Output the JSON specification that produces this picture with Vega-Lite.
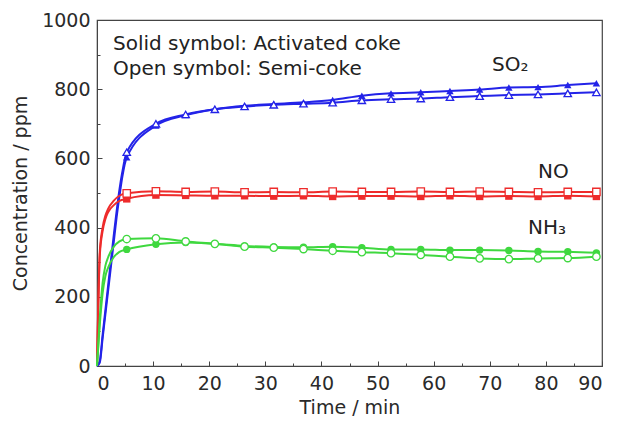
{
  "$schema": "https://vega.github.io/schema/vega-lite/v6.json",
  "width": 505,
  "height": 346,
  "autosize": {"type": "none"},
  "padding": {"left": 97, "top": 20, "right": 15, "bottom": 56},
  "background": "white",
  "config": {
    "font": "DejaVu Sans",
    "view": {"stroke": "#444", "strokeWidth": 1.2},
    "axis": {"grid": false, "domainColor": "#444", "tickColor": "#444", "labelColor": "#2a2a2a", "titleColor": "#2a2a2a", "labelFontSize": 19, "titleFontSize": 19, "titleFontWeight": "normal", "labelFont": "DejaVu Sans", "titleFont": "DejaVu Sans", "format": "d"}
  },
  "datasets": {
    "curve": [
      {"gas": "SO2", "sorbent": "Activated coke", "time": 0, "ppm": 0},
      {"gas": "SO2", "sorbent": "Activated coke", "time": 0.5, "ppm": 10},
      {"gas": "SO2", "sorbent": "Activated coke", "time": 1, "ppm": 80},
      {"gas": "SO2", "sorbent": "Activated coke", "time": 1.5, "ppm": 150},
      {"gas": "SO2", "sorbent": "Activated coke", "time": 2, "ppm": 220},
      {"gas": "SO2", "sorbent": "Activated coke", "time": 2.5, "ppm": 290},
      {"gas": "SO2", "sorbent": "Activated coke", "time": 3, "ppm": 360},
      {"gas": "SO2", "sorbent": "Activated coke", "time": 3.5, "ppm": 430},
      {"gas": "SO2", "sorbent": "Activated coke", "time": 4, "ppm": 490},
      {"gas": "SO2", "sorbent": "Activated coke", "time": 4.5, "ppm": 545},
      {"gas": "SO2", "sorbent": "Activated coke", "time": 5.3, "ppm": 603},
      {"gas": "SO2", "sorbent": "Activated coke", "time": 10.5, "ppm": 695},
      {"gas": "SO2", "sorbent": "Activated coke", "time": 15.8, "ppm": 725},
      {"gas": "SO2", "sorbent": "Activated coke", "time": 21, "ppm": 742},
      {"gas": "SO2", "sorbent": "Activated coke", "time": 26.3, "ppm": 752},
      {"gas": "SO2", "sorbent": "Activated coke", "time": 31.5, "ppm": 757},
      {"gas": "SO2", "sorbent": "Activated coke", "time": 36.8, "ppm": 762},
      {"gas": "SO2", "sorbent": "Activated coke", "time": 42, "ppm": 769},
      {"gas": "SO2", "sorbent": "Activated coke", "time": 47.2, "ppm": 781},
      {"gas": "SO2", "sorbent": "Activated coke", "time": 52.4, "ppm": 788},
      {"gas": "SO2", "sorbent": "Activated coke", "time": 57.7, "ppm": 791},
      {"gas": "SO2", "sorbent": "Activated coke", "time": 62.9, "ppm": 795},
      {"gas": "SO2", "sorbent": "Activated coke", "time": 68.2, "ppm": 799},
      {"gas": "SO2", "sorbent": "Activated coke", "time": 73.4, "ppm": 805},
      {"gas": "SO2", "sorbent": "Activated coke", "time": 78.6, "ppm": 806},
      {"gas": "SO2", "sorbent": "Activated coke", "time": 83.9, "ppm": 812},
      {"gas": "SO2", "sorbent": "Activated coke", "time": 89, "ppm": 817},
      {"gas": "SO2", "sorbent": "Semi-coke", "time": 0, "ppm": 0},
      {"gas": "SO2", "sorbent": "Semi-coke", "time": 0.5, "ppm": 15},
      {"gas": "SO2", "sorbent": "Semi-coke", "time": 1, "ppm": 90},
      {"gas": "SO2", "sorbent": "Semi-coke", "time": 2, "ppm": 235},
      {"gas": "SO2", "sorbent": "Semi-coke", "time": 3, "ppm": 380},
      {"gas": "SO2", "sorbent": "Semi-coke", "time": 4, "ppm": 510},
      {"gas": "SO2", "sorbent": "Semi-coke", "time": 4.5, "ppm": 560},
      {"gas": "SO2", "sorbent": "Semi-coke", "time": 5.3, "ppm": 618},
      {"gas": "SO2", "sorbent": "Semi-coke", "time": 10.5, "ppm": 700},
      {"gas": "SO2", "sorbent": "Semi-coke", "time": 15.8, "ppm": 727},
      {"gas": "SO2", "sorbent": "Semi-coke", "time": 21, "ppm": 742},
      {"gas": "SO2", "sorbent": "Semi-coke", "time": 26.3, "ppm": 750},
      {"gas": "SO2", "sorbent": "Semi-coke", "time": 31.5, "ppm": 755},
      {"gas": "SO2", "sorbent": "Semi-coke", "time": 36.8, "ppm": 758},
      {"gas": "SO2", "sorbent": "Semi-coke", "time": 42, "ppm": 761},
      {"gas": "SO2", "sorbent": "Semi-coke", "time": 47.2, "ppm": 768},
      {"gas": "SO2", "sorbent": "Semi-coke", "time": 52.4, "ppm": 771},
      {"gas": "SO2", "sorbent": "Semi-coke", "time": 57.7, "ppm": 773},
      {"gas": "SO2", "sorbent": "Semi-coke", "time": 62.9, "ppm": 777},
      {"gas": "SO2", "sorbent": "Semi-coke", "time": 68.2, "ppm": 780},
      {"gas": "SO2", "sorbent": "Semi-coke", "time": 73.4, "ppm": 783},
      {"gas": "SO2", "sorbent": "Semi-coke", "time": 78.6, "ppm": 785},
      {"gas": "SO2", "sorbent": "Semi-coke", "time": 83.9, "ppm": 788},
      {"gas": "SO2", "sorbent": "Semi-coke", "time": 89, "ppm": 791},
      {"gas": "NO", "sorbent": "Activated coke", "time": 0, "ppm": 0},
      {"gas": "NO", "sorbent": "Activated coke", "time": 0.2, "ppm": 150},
      {"gas": "NO", "sorbent": "Activated coke", "time": 0.5, "ppm": 320},
      {"gas": "NO", "sorbent": "Activated coke", "time": 1, "ppm": 390},
      {"gas": "NO", "sorbent": "Activated coke", "time": 1.5, "ppm": 425},
      {"gas": "NO", "sorbent": "Activated coke", "time": 2, "ppm": 445},
      {"gas": "NO", "sorbent": "Activated coke", "time": 3, "ppm": 465},
      {"gas": "NO", "sorbent": "Activated coke", "time": 4, "ppm": 477},
      {"gas": "NO", "sorbent": "Activated coke", "time": 5.3, "ppm": 483},
      {"gas": "NO", "sorbent": "Activated coke", "time": 10.5, "ppm": 494},
      {"gas": "NO", "sorbent": "Activated coke", "time": 15.8, "ppm": 493},
      {"gas": "NO", "sorbent": "Activated coke", "time": 21, "ppm": 492},
      {"gas": "NO", "sorbent": "Activated coke", "time": 26.3, "ppm": 492},
      {"gas": "NO", "sorbent": "Activated coke", "time": 31.5, "ppm": 491},
      {"gas": "NO", "sorbent": "Activated coke", "time": 36.8, "ppm": 492},
      {"gas": "NO", "sorbent": "Activated coke", "time": 42, "ppm": 490},
      {"gas": "NO", "sorbent": "Activated coke", "time": 47.2, "ppm": 491},
      {"gas": "NO", "sorbent": "Activated coke", "time": 52.4, "ppm": 491},
      {"gas": "NO", "sorbent": "Activated coke", "time": 57.7, "ppm": 490},
      {"gas": "NO", "sorbent": "Activated coke", "time": 62.9, "ppm": 492},
      {"gas": "NO", "sorbent": "Activated coke", "time": 68.2, "ppm": 490},
      {"gas": "NO", "sorbent": "Activated coke", "time": 73.4, "ppm": 491},
      {"gas": "NO", "sorbent": "Activated coke", "time": 78.6, "ppm": 490},
      {"gas": "NO", "sorbent": "Activated coke", "time": 83.9, "ppm": 492},
      {"gas": "NO", "sorbent": "Activated coke", "time": 89, "ppm": 490},
      {"gas": "NO", "sorbent": "Semi-coke", "time": 0, "ppm": 0},
      {"gas": "NO", "sorbent": "Semi-coke", "time": 0.2, "ppm": 160},
      {"gas": "NO", "sorbent": "Semi-coke", "time": 0.5, "ppm": 330},
      {"gas": "NO", "sorbent": "Semi-coke", "time": 1, "ppm": 400},
      {"gas": "NO", "sorbent": "Semi-coke", "time": 1.5, "ppm": 435},
      {"gas": "NO", "sorbent": "Semi-coke", "time": 2, "ppm": 455},
      {"gas": "NO", "sorbent": "Semi-coke", "time": 3, "ppm": 478},
      {"gas": "NO", "sorbent": "Semi-coke", "time": 4, "ppm": 492},
      {"gas": "NO", "sorbent": "Semi-coke", "time": 5.3, "ppm": 499},
      {"gas": "NO", "sorbent": "Semi-coke", "time": 10.5, "ppm": 505},
      {"gas": "NO", "sorbent": "Semi-coke", "time": 15.8, "ppm": 503},
      {"gas": "NO", "sorbent": "Semi-coke", "time": 21, "ppm": 504},
      {"gas": "NO", "sorbent": "Semi-coke", "time": 26.3, "ppm": 502},
      {"gas": "NO", "sorbent": "Semi-coke", "time": 31.5, "ppm": 503},
      {"gas": "NO", "sorbent": "Semi-coke", "time": 36.8, "ppm": 502},
      {"gas": "NO", "sorbent": "Semi-coke", "time": 42, "ppm": 504},
      {"gas": "NO", "sorbent": "Semi-coke", "time": 47.2, "ppm": 503},
      {"gas": "NO", "sorbent": "Semi-coke", "time": 52.4, "ppm": 503},
      {"gas": "NO", "sorbent": "Semi-coke", "time": 57.7, "ppm": 504},
      {"gas": "NO", "sorbent": "Semi-coke", "time": 62.9, "ppm": 503},
      {"gas": "NO", "sorbent": "Semi-coke", "time": 68.2, "ppm": 504},
      {"gas": "NO", "sorbent": "Semi-coke", "time": 73.4, "ppm": 503},
      {"gas": "NO", "sorbent": "Semi-coke", "time": 78.6, "ppm": 502},
      {"gas": "NO", "sorbent": "Semi-coke", "time": 83.9, "ppm": 503},
      {"gas": "NO", "sorbent": "Semi-coke", "time": 89, "ppm": 503},
      {"gas": "NH3", "sorbent": "Activated coke", "time": 0, "ppm": 0},
      {"gas": "NH3", "sorbent": "Activated coke", "time": 0.5, "ppm": 120},
      {"gas": "NH3", "sorbent": "Activated coke", "time": 1, "ppm": 210},
      {"gas": "NH3", "sorbent": "Activated coke", "time": 1.5, "ppm": 260},
      {"gas": "NH3", "sorbent": "Activated coke", "time": 2, "ppm": 285},
      {"gas": "NH3", "sorbent": "Activated coke", "time": 3, "ppm": 315},
      {"gas": "NH3", "sorbent": "Activated coke", "time": 4, "ppm": 330},
      {"gas": "NH3", "sorbent": "Activated coke", "time": 5.3, "ppm": 337},
      {"gas": "NH3", "sorbent": "Activated coke", "time": 10.5, "ppm": 352},
      {"gas": "NH3", "sorbent": "Activated coke", "time": 15.8, "ppm": 357},
      {"gas": "NH3", "sorbent": "Activated coke", "time": 21, "ppm": 353},
      {"gas": "NH3", "sorbent": "Activated coke", "time": 26.3, "ppm": 347},
      {"gas": "NH3", "sorbent": "Activated coke", "time": 31.5, "ppm": 344},
      {"gas": "NH3", "sorbent": "Activated coke", "time": 36.8, "ppm": 343},
      {"gas": "NH3", "sorbent": "Activated coke", "time": 42, "ppm": 345},
      {"gas": "NH3", "sorbent": "Activated coke", "time": 47.2, "ppm": 342},
      {"gas": "NH3", "sorbent": "Activated coke", "time": 52.4, "ppm": 337},
      {"gas": "NH3", "sorbent": "Activated coke", "time": 57.7, "ppm": 337},
      {"gas": "NH3", "sorbent": "Activated coke", "time": 62.9, "ppm": 335},
      {"gas": "NH3", "sorbent": "Activated coke", "time": 68.2, "ppm": 335},
      {"gas": "NH3", "sorbent": "Activated coke", "time": 73.4, "ppm": 334},
      {"gas": "NH3", "sorbent": "Activated coke", "time": 78.6, "ppm": 331},
      {"gas": "NH3", "sorbent": "Activated coke", "time": 83.9, "ppm": 330},
      {"gas": "NH3", "sorbent": "Activated coke", "time": 89, "ppm": 327},
      {"gas": "NH3", "sorbent": "Semi-coke", "time": 0, "ppm": 0},
      {"gas": "NH3", "sorbent": "Semi-coke", "time": 0.5, "ppm": 140},
      {"gas": "NH3", "sorbent": "Semi-coke", "time": 1, "ppm": 240},
      {"gas": "NH3", "sorbent": "Semi-coke", "time": 1.5, "ppm": 290},
      {"gas": "NH3", "sorbent": "Semi-coke", "time": 2, "ppm": 315},
      {"gas": "NH3", "sorbent": "Semi-coke", "time": 3, "ppm": 345},
      {"gas": "NH3", "sorbent": "Semi-coke", "time": 4, "ppm": 360},
      {"gas": "NH3", "sorbent": "Semi-coke", "time": 5.3, "ppm": 367},
      {"gas": "NH3", "sorbent": "Semi-coke", "time": 10.5, "ppm": 369},
      {"gas": "NH3", "sorbent": "Semi-coke", "time": 15.8, "ppm": 360},
      {"gas": "NH3", "sorbent": "Semi-coke", "time": 21, "ppm": 353},
      {"gas": "NH3", "sorbent": "Semi-coke", "time": 26.3, "ppm": 345},
      {"gas": "NH3", "sorbent": "Semi-coke", "time": 31.5, "ppm": 342},
      {"gas": "NH3", "sorbent": "Semi-coke", "time": 36.8, "ppm": 338},
      {"gas": "NH3", "sorbent": "Semi-coke", "time": 42, "ppm": 333},
      {"gas": "NH3", "sorbent": "Semi-coke", "time": 47.2, "ppm": 329},
      {"gas": "NH3", "sorbent": "Semi-coke", "time": 52.4, "ppm": 326},
      {"gas": "NH3", "sorbent": "Semi-coke", "time": 57.7, "ppm": 321},
      {"gas": "NH3", "sorbent": "Semi-coke", "time": 62.9, "ppm": 316},
      {"gas": "NH3", "sorbent": "Semi-coke", "time": 68.2, "ppm": 311},
      {"gas": "NH3", "sorbent": "Semi-coke", "time": 73.4, "ppm": 309},
      {"gas": "NH3", "sorbent": "Semi-coke", "time": 78.6, "ppm": 311},
      {"gas": "NH3", "sorbent": "Semi-coke", "time": 83.9, "ppm": 312},
      {"gas": "NH3", "sorbent": "Semi-coke", "time": 89, "ppm": 316}
    ],
    "labels": [
      {"text": "Solid symbol: Activated coke", "time": 2.85, "ppm": 932},
      {"text": "Open symbol: Semi-coke", "time": 2.85, "ppm": 857},
      {"text": "SO₂", "time": 70.4, "ppm": 870},
      {"text": "NO", "time": 78.6, "ppm": 561},
      {"text": "NH₃", "time": 76.8, "ppm": 399}
    ]
  },
  "resolve": {"axis": {"x": "independent", "y": "independent"}},
  "layer": [
    {
      "data": {"name": "curve"},
      "mark": {"type": "line", "strokeWidth": 2, "interpolate": "monotone"},
      "encoding": {
        "x": {"field": "time", "type": "quantitative", "scale": {"domain": [0, 90], "nice": false},
          "axis": {"orient": "bottom", "values": [0, 10, 20, 30, 40, 50, 60, 70, 80, 90], "tickSize": -5, "labelPadding": 13, "title": "Time / min", "titlePadding": 5}},
        "y": {"field": "ppm", "type": "quantitative", "scale": {"domain": [0, 1000], "nice": false},
          "axis": {"orient": "left", "values": [0, 200, 400, 600, 800, 1000], "tickSize": -5, "labelPadding": 12, "title": "Concentration / ppm", "titlePadding": 11}},
        "color": {"field": "gas", "type": "nominal", "legend": null,
          "scale": {"domain": ["SO2", "NO", "NH3"], "range": ["#2323e8", "#ee2b2b", "#3fd83f"]}},
        "detail": {"field": "sorbent", "type": "nominal"}
      }
    },
    {
      "data": {"name": "curve"},
      "transform": [{"filter": "datum.time >= 5 && datum.sorbent == 'Activated coke'"}],
      "mark": {"type": "point", "filled": true, "opacity": 1, "size": 55},
      "encoding": {
        "x": {"field": "time", "type": "quantitative",
          "axis": {"orient": "bottom", "values": [5, 15, 25, 35, 45, 55, 65, 75, 85], "tickSize": -3, "labels": false, "domain": false, "title": null}},
        "y": {"field": "ppm", "type": "quantitative",
          "axis": {"orient": "left", "values": [100, 300, 500, 700, 900], "tickSize": -3, "labels": false, "domain": false, "title": null}},
        "color": {"field": "gas", "type": "nominal", "legend": null},
        "shape": {"field": "gas", "type": "nominal", "legend": null,
          "scale": {"domain": ["SO2", "NO", "NH3"], "range": ["triangle-up", "square", "circle"]}}
      }
    },
    {
      "data": {"name": "curve"},
      "transform": [{"filter": "datum.time >= 5 && datum.sorbent == 'Semi-coke'"}],
      "mark": {"type": "point", "filled": false, "fill": "white", "fillOpacity": 1, "opacity": 1, "size": 55, "strokeWidth": 1.3},
      "encoding": {
        "x": {"field": "time", "type": "quantitative", "axis": null},
        "y": {"field": "ppm", "type": "quantitative", "axis": null},
        "color": {"field": "gas", "type": "nominal", "legend": null},
        "shape": {"field": "gas", "type": "nominal", "legend": null}
      }
    },
    {
      "data": {"name": "labels"},
      "mark": {"type": "text", "align": "left", "baseline": "middle", "fontSize": 20, "color": "#222", "font": "DejaVu Sans"},
      "encoding": {
        "x": {"field": "time", "type": "quantitative", "axis": null},
        "y": {"field": "ppm", "type": "quantitative", "axis": null},
        "text": {"field": "text"}
      }
    }
  ]
}
